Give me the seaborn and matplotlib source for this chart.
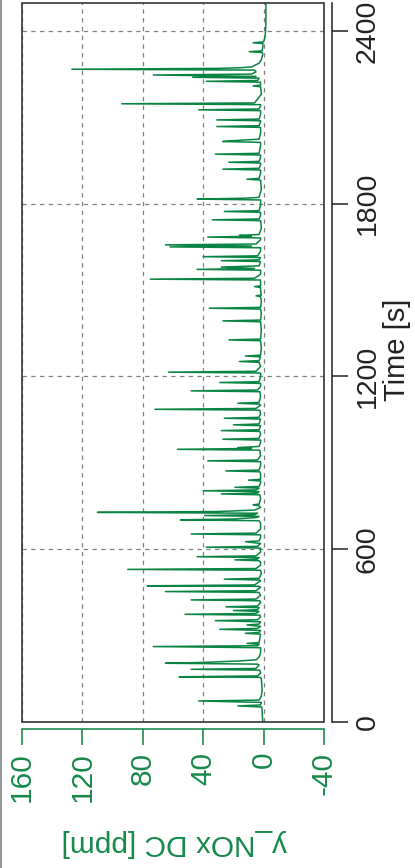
import numpy as np
import pandas as pd
import matplotlib
matplotlib.use("Agg")
import matplotlib.pyplot as plt
import seaborn as sns
from matplotlib.patches import Rectangle
from matplotlib.lines import Line2D

# ---------------- data ----------------
time_s = [
    0, 20, 40, 52, 56, 59, 68, 73, 76, 90, 110, 130, 150, 155, 157, 160, 170, 180, 183, 186,
    198, 201, 204, 207, 212, 216, 225, 240, 258, 262, 265, 270, 273, 276, 290, 305, 308, 311,
    318, 322, 325, 332, 337, 340, 348, 352, 355, 366, 371, 374, 377, 384, 387, 390, 397, 400,
    403, 415, 421, 424, 427, 440, 450, 453, 456, 468, 471, 473, 476, 490, 493, 496, 499, 515,
    527, 530, 533, 545, 555, 560, 563, 566, 571, 574, 577, 590, 604, 607, 610, 620, 626, 629,
    640, 650, 653, 656, 670, 690, 699, 702, 705, 710, 714, 717, 720, 725, 728, 731, 736, 745,
    751, 754, 757, 775, 789, 792, 795, 800, 803, 806, 812, 815, 818, 830, 837, 840, 843, 860,
    869, 872, 875, 890, 904, 907, 910, 925, 944, 947, 950, 953, 957, 970, 979, 982, 985, 1000,
    1009, 1012, 1015, 1029, 1032, 1035, 1052, 1055, 1058, 1070, 1083, 1086, 1089, 1100, 1104,
    1107, 1110, 1130, 1147, 1150, 1153, 1165, 1176, 1179, 1182, 1200, 1212, 1215, 1218, 1235,
    1249, 1252, 1255, 1268, 1271, 1274, 1300, 1324, 1327, 1330, 1360, 1390, 1393, 1396, 1420,
    1434, 1437, 1440, 1460, 1477, 1480, 1483, 1500, 1509, 1512, 1515, 1535, 1538, 1541, 1555,
    1569, 1572, 1575, 1580, 1584, 1599, 1602, 1605, 1613, 1616, 1619, 1635, 1647, 1650, 1653,
    1657, 1660, 1675, 1681, 1684, 1687, 1690, 1693, 1715, 1741, 1744, 1747, 1760, 1770, 1773,
    1776, 1795, 1813, 1816, 1819, 1822, 1850, 1882, 1885, 1888, 1905, 1917, 1920, 1923, 1935,
    1941, 1944, 1947, 1960, 1969, 1972, 1975, 2000, 2013, 2016, 2019, 2024, 2045, 2065, 2068,
    2071, 2085, 2088, 2091, 2094, 2110, 2123, 2126, 2129, 2140, 2144, 2147, 2150, 2180, 2206,
    2209, 2212, 2222, 2225, 2228, 2236, 2239, 2242, 2247, 2250, 2258, 2264, 2267, 2270, 2272,
    2275, 2288, 2300, 2320, 2325, 2328, 2331, 2345, 2356, 2359, 2362, 2380, 2420, 2460, 2497,
]
nox_ppm = [
    0.5, 0.8, 1.0, 1.2, 17, 2, 1.5, 43, 3, 1.5, 1.0, 1.2, 1.5, 2, 56, 4, 2, 2.5, 48, 5,
    3, 4, 65, 40, 16, 5, 3, 2, 2, 73, 4, 3, 11, 3, 2.5, 2, 12, 3,
    2, 29, 4, 2, 11, 3, 2, 32, 4, 2, 2.5, 52, 5, 3, 20, 4, 3, 25,
    4, 2, 2.5, 48, 5, 2, 3, 65, 5, 2, 3, 77, 6, 2, 2.5, 26, 3, 1.5,
    2, 90, 5, 2, 2, 3, 19, 4, 3, 44, 5, 2, 2, 38, 4, 2, 12, 3,
    2, 2, 48, 5, 2, 2, 3, 55, 20, 5, 3, 39, 6, 4, 110, 30, 6, 2,
    3, 7, 3, 2, 2.5, 28, 4, 3, 40, 5, 3, 19, 3, 2, 2, 10, 2, 2,
    2.5, 25, 3, 2, 2, 37, 4, 2, 2.5, 57, 8, 17, 3, 2, 2, 27, 3, 2,
    2.5, 28, 3, 2, 20, 3, 2, 26, 3, 2, 2.5, 72, 5, 2, 3,
    17, 3, 2, 2.5, 48, 4, 2, 2, 29, 3, 2, 2, 63, 5, 2,
    3, 16, 3, 2, 12, 2, 1.5, 2, 23, 2, 1.5, 2, 27, 2, 1.5,
    2, 36, 2, 1.5, 2, 5, 1.5, 2, 2, 6, 2, 2, 75, 6, 2,
    2, 44, 6, 28, 3, 2, 28, 3, 2, 40, 4, 2, 2, 62, 8,
    65, 5, 2, 2, 37, 8, 16, 3, 1.5, 2, 34, 3, 2, 2, 26,
    3, 2, 2, 44, 13, 3, 1.5, 2, 11, 3, 2, 2, 27, 3, 2,
    2, 23, 3, 2, 2, 32, 3, 2, 2, 27, 20, 3, 2, 2, 31,
    3, 2, 2, 31, 3, 2, 2, 43, 3, 2, 2, 94, 6, 1.5, 2,
    7, 2, 2, 38, 4, 3, 47, 5, 73, 8, 5, 6, 127, 30, 16,
    8, 3, 1.5, 0.5, 1, 9.5, 1, 0.5, 0.5, 7, 0, -1, -1.5, -1.5, -1.5,
]
nox_ticks = [160, 120, 80, 40, 0, -40]
time_ticks = [0, 600, 1200, 1800, 2400]
time_label = "Time [s]"
nox_label = "y_NOx DC [ppm]"

df = pd.DataFrame({"time": time_s, "nox": nox_ppm})

# ---------------- styling ----------------
sns.set_style("white")
plt.rcParams["font.family"] = ["Liberation Sans", "DejaVu Sans"]

GREEN = "#0a8442"
GREEN_TXT = "#16894a"
W, H = 415, 868
fig = plt.figure(figsize=(W / 100, H / 100), dpi=100)
ax = fig.add_axes([22 / W, 1 - 722 / H, (324 - 22) / W, (722 - 3) / H])

sns.lineplot(data=df, x="nox", y="time", orient="y", sort=False, estimator=None,
             color=GREEN, lw=1.1, ax=ax)

ax.set_xlim(160, -40)
ax.set_ylim(0, 2497)
ax.set_xticks(nox_ticks)
ax.set_yticks(time_ticks)
ax.set_xlabel("")
ax.set_ylabel("")

# grid
ax.grid(True, color="#808080", linestyle=(0, (3.5, 3.5)), linewidth=0.9)
for val, gl in zip(nox_ticks, ax.get_xgridlines()):
    if val == 0:
        gl.set_color("#b8b8b8")
        gl.set_linewidth(2.0)

# box around the plotting area
for s in ax.spines.values():
    s.set_visible(False)
ax.add_patch(Rectangle((0, 0), 1, 1, transform=ax.transAxes, fill=False,
                       edgecolor="#333333", lw=1.2, clip_on=False, zorder=5))

# offset axes (time on right, NOx at bottom)
ax.spines["right"].set_visible(True)
ax.spines["right"].set_position(("outward", 5.5))
ax.spines["right"].set_color("#222222")
ax.spines["right"].set_linewidth(1.1)
ax.spines["bottom"].set_visible(True)
ax.spines["bottom"].set_position(("outward", 5))
ax.spines["bottom"].set_color(GREEN)
ax.spines["bottom"].set_linewidth(1.1)

ax.yaxis.tick_right()
ax.tick_params(axis="y", which="major", direction="out", length=11.5, width=1.1,
               color="#222222", pad=5, labelsize=20.5, labelcolor="#222222",
               left=False, right=True)
ax.tick_params(axis="x", which="major", direction="out", length=11.5, width=1.1,
               color=GREEN, pad=5, labelsize=21.5, labelcolor=GREEN_TXT,
               bottom=True, top=False)

ax.set_yticklabels([str(t) for t in time_ticks])
for lab in ax.get_yticklabels():
    lab.set_rotation(90)
    lab.set_va("center")
    lab.set_ha("left")
ax.set_xticklabels([str(t) for t in nox_ticks])
for lab in ax.get_xticklabels():
    lab.set_rotation(90)
    lab.set_va("top")
    lab.set_ha("center")

for val, tk in zip(time_ticks, ax.yaxis.get_major_ticks()):
    if val == 0:
        tk.tick2line.set_color("#888888")
for val, tk in zip(nox_ticks, ax.xaxis.get_major_ticks()):
    if val == 0:
        tk.tick1line.set_color("#7fbf9a")

# axis labels
fig.text(397 / W, 1 - 350 / H, time_label, rotation=90, ha="center", va="center",
         fontsize=21, color="#222222")
fig.text(174 / W, 1 - 843 / H, nox_label, rotation=180, ha="center", va="center",
         fontsize=21.5, color=GREEN_TXT)

# thin frame line at left edge of figure
fig.add_artist(Line2D([1 / W, 1 / W], [0, 1], transform=fig.transFigure,
                      color="#999999", lw=1.5))

fig.savefig("out.png", dpi=100)
